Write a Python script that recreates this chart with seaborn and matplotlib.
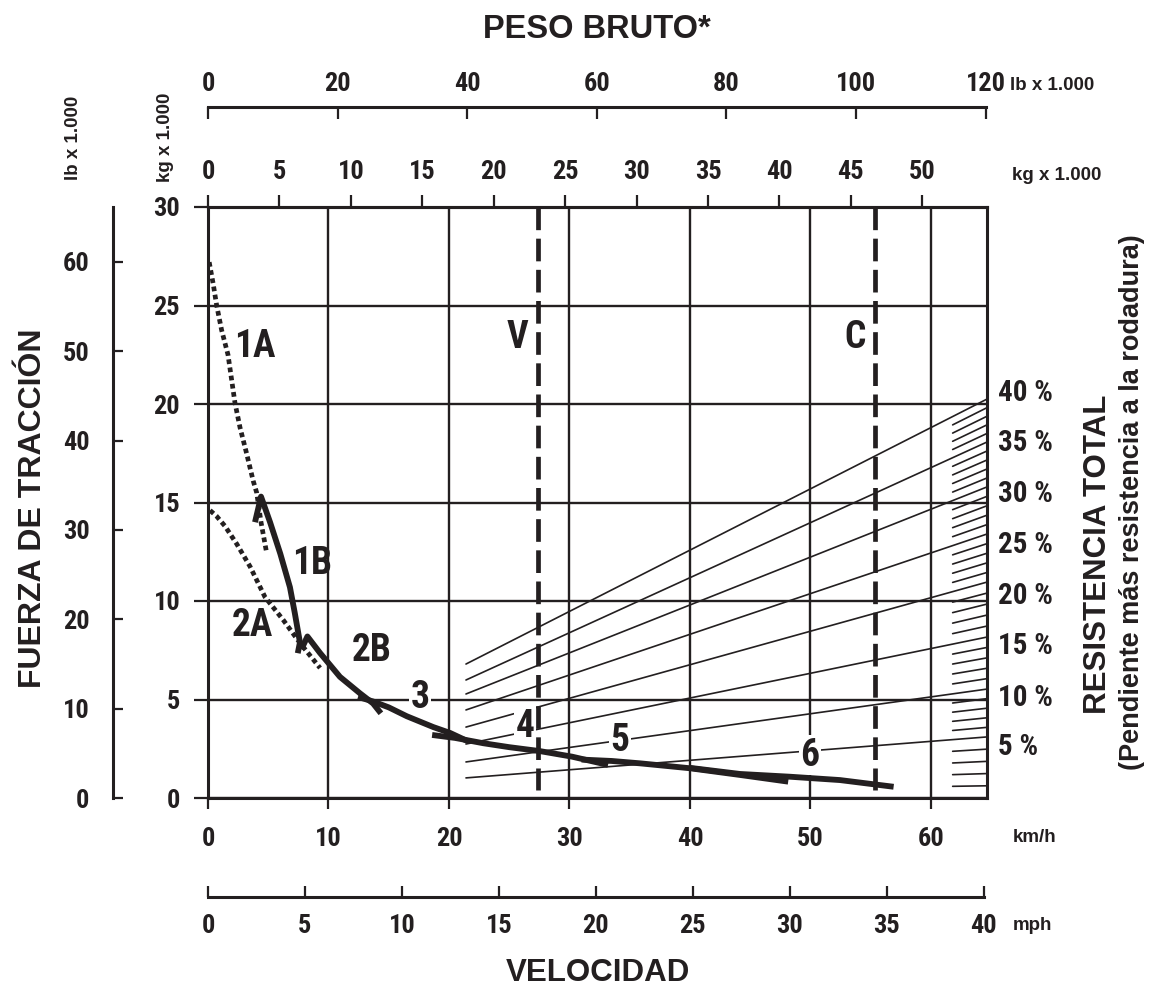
import numpy as np
import pandas as pd
import matplotlib
matplotlib.use("Agg")
import matplotlib.pyplot as plt
import matplotlib.transforms as mtransforms
from matplotlib import font_manager as fm
import seaborn as sns

# ---------------- data ----------------
speed_ticks_kmh = [0, 10, 20, 30, 40, 50, 60]
speed_ticks_mph = [0, 5, 10, 15, 20, 25, 30, 35, 40]
force_ticks_t = [0, 5, 10, 15, 20, 25, 30]
force_ticks_klb = [0, 10, 20, 30, 40, 50, 60]
weight_ticks_klb = [0, 20, 40, 60, 80, 100, 120]
weight_ticks_t = [0, 5, 10, 15, 20, 25, 30, 35, 40, 45, 50]

# rimpull curves: speed (km/h) vs force (kg x 1000)
g1A_kmh = [0.1, 0.43, 0.72, 1.13, 1.66, 2.24, 2.66, 3.2, 3.75, 4.04, 4.4, 4.85]
g1A_t = [27.2, 26.1, 25.0, 23.75, 22.5, 20.05, 18.8, 17.5, 16.1, 15.5, 14.0, 12.5]
g2A_kmh = [0.17, 0.72, 1.41, 2.38, 3.49, 4.73, 6.24, 7.63, 9.3]
g2A_t = [14.6, 14.3, 13.8, 12.9, 11.75, 10.2, 9.04, 7.87, 6.6]
g1B_kmh = [3.9, 4.4, 5.15, 6.0, 6.8, 7.2, 7.63, 7.45]
g1B_t = [14.0, 15.3, 14.0, 12.4, 10.7, 9.4, 7.9, 7.35]
g2B_kmh = [7.75, 8.25, 9.3, 10.95, 12.6, 13.7, 14.35]
g2B_t = [7.55, 8.2, 7.36, 6.15, 5.32, 4.8, 4.3]
g3_kmh = [12.45, 13.7, 15.0, 16.5, 18.7, 20.1, 21.5]
g3_t = [5.13, 4.9, 4.6, 4.15, 3.6, 3.3, 2.9]
g4_kmh = [18.6, 20.5, 22.85, 25.0, 27.55, 30.2, 33.2]
g4_t = [3.2, 3.05, 2.78, 2.58, 2.38, 2.1, 1.68]
g5_kmh = [31.0, 33.5, 35.85, 40.0, 44.15, 48.15]
g5_t = [1.95, 1.88, 1.76, 1.51, 1.17, 0.83]
g6_kmh = [40.0, 44.15, 48.3, 52.45, 56.9]
g6_t = [1.53, 1.22, 1.08, 0.91, 0.57]

# total resistance lines (% grade) : force at left start and right edge
grade_pct = [5, 10, 15, 20, 25, 30, 35, 40]
grade_left_t = [1.02, 1.83, 2.74, 3.60, 4.47, 5.28, 5.99, 6.80]
grade_right_t = [3.10, 5.53, 8.17, 10.96, 13.40, 15.79, 18.07, 20.25]
grade_label_t = [2.6, 5.1, 7.7, 10.25, 12.85, 15.45, 18.0, 20.55]

empty_weight_t = 23.1   # V
loaded_weight_t = 46.7  # C

# ---------------- style ----------------
INK = "#231f20"
sns.set_theme(style="white")
avail = {f.name for f in fm.fontManager.ttflist}
COND = next((f for f in ["Liberation Sans Narrow", "Roboto Condensed", "DejaVu Sans Condensed"] if f in avail), None)
SANS = next((f for f in ["Liberation Sans", "Arial", "DejaVu Sans"] if f in avail), "DejaVu Sans")
if COND is None:
    COND = SANS
    STRETCH = "condensed"
else:
    STRETCH = "normal"
plt.rcParams["font.family"] = [COND, "DejaVu Sans"]
plt.rcParams["font.weight"] = "bold"
plt.rcParams["font.stretch"] = STRETCH
plt.rcParams["text.color"] = INK
plt.rcParams["axes.edgecolor"] = INK

W, H = 1149, 992
fig = plt.figure(figsize=(W / 100, H / 100), dpi=100)
fig.patch.set_facecolor("white")


def fx(px):
    return px / W


def fy(py):
    return 1 - py / H


LB_PER_KG = 1 / 0.45359237
XMAX = 64.65                 # km/h at right frame
KMH_PER_KLB = 64.54 / 120.0  # weight scale is printed over the same width
MAIN_W = (987 - 208) / W
TICKSIZE = 19

ax = fig.add_axes([fx(208), fy(798), MAIN_W, (798 - 207) / H])
ax.set_xlim(0, XMAX)
ax.set_ylim(0, 30)
ax.set_xticks(speed_ticks_kmh)
ax.set_yticks(force_ticks_t)
ax.grid(True, color=INK, lw=1.7)
ax.set_axisbelow(True)
for s in ax.spines.values():
    s.set_visible(True)
    s.set_color(INK)
    s.set_linewidth(2.2)
ax.tick_params(axis="x", direction="out", length=8, width=1.6, pad=13,
               labelsize=TICKSIZE, colors=INK, bottom=True)
ax.tick_params(axis="y", direction="out", length=10, width=1.6, pad=10,
               labelsize=TICKSIZE, colors=INK, left=True)
ax.set_xlabel("")
ax.set_ylabel("")

# top kg axis (on the frame)
sec = ax.secondary_xaxis(
    "top",
    functions=(lambda x: x / KMH_PER_KLB / LB_PER_KG, lambda t: t * LB_PER_KG * KMH_PER_KLB),
)
sec.set_xticks(weight_ticks_t)
sec.tick_params(direction="out", length=8.6, width=1.6, pad=8, labelsize=TICKSIZE,
                colors=INK, top=True)
sec.spines["top"].set_linewidth(2.2)

# top lb axis
ax_lb = fig.add_axes([fx(208), fy(107) - 0.03, 120 * KMH_PER_KLB / XMAX * MAIN_W, 0.03])
ax_lb.set_xlim(0, 120)
ax_lb.patch.set_visible(False)
for k, s in ax_lb.spines.items():
    s.set_visible(k == "top")
    s.set_linewidth(2.2)
    s.set_color(INK)
ax_lb.xaxis.tick_top()
ax_lb.set_xticks(weight_ticks_klb)
ax_lb.set_yticks([])
ax_lb.tick_params(axis="x", direction="in", length=8.6, width=1.6, pad=8,
                  labelsize=TICKSIZE, colors=INK, top=True, bottom=False)

# outer left lb axis
ax_o = fig.add_axes([fx(113), fy(798), 0.03, (798 - 207) / H])
ax_o.set_ylim(0, 30 * LB_PER_KG)
ax_o.patch.set_visible(False)
for k, s in ax_o.spines.items():
    s.set_visible(k == "left")
    s.set_linewidth(2.2)
    s.set_color(INK)
ax_o.set_yticks(force_ticks_klb)
ax_o.set_xticks([])
ax_o.tick_params(axis="y", direction="in", length=7.5, width=1.6, pad=17,
                 labelsize=TICKSIZE, colors=INK, left=True, right=False)

# bottom mph axis
ax_m = fig.add_axes([fx(208), fy(897), 40 * 1.609344 / XMAX * MAIN_W, 0.03])
ax_m.set_xlim(0, 40)
ax_m.patch.set_visible(False)
for k, s in ax_m.spines.items():
    s.set_visible(k == "bottom")
    s.set_linewidth(2.2)
    s.set_color(INK)
ax_m.set_xticks(speed_ticks_mph)
ax_m.set_yticks([])
ax_m.tick_params(axis="x", direction="in", length=8, width=1.6, pad=12,
                 labelsize=TICKSIZE, colors=INK, bottom=True, top=False)

# ---------------- resistance lines ----------------
X_GRADE0 = 21.41
for lv, rv in zip(grade_left_t, grade_right_t):
    ax.plot([X_GRADE0, XMAX], [lv, rv], color=INK, lw=1.2, zorder=2)
X_HATCH0 = 61.8
for pct in range(1, 40):
    if pct in grade_pct:
        continue
    rv = np.interp(pct, [0] + grade_pct, [0] + grade_right_t)
    ax.plot([X_HATCH0, XMAX], [rv * X_HATCH0 / XMAX, rv], color=INK, lw=1.2, zorder=2)

ytrans = mtransforms.blended_transform_factory(ax.transAxes, ax.transData)
for pct, yv in zip(grade_pct, grade_label_t):
    ax.text((998 - 208) / 779, yv, f"{pct} %", transform=ytrans, ha="left", va="center",
            fontsize=21, color=INK, clip_on=False)

# ---------------- empty / loaded weight lines ----------------
for wt, lab, lx in [(empty_weight_t, "V", -1.75), (loaded_weight_t, "C", -1.65)]:
    xk = wt * LB_PER_KG * KMH_PER_KLB
    ax.plot([xk, xk], [30, 0.4], color=INK, lw=3.4, dashes=(4.8, 1.8), zorder=3,
            solid_capstyle="butt")
    ax.text(xk + lx, 23.4, lab, ha="center", va="center", fontsize=27, color=INK, zorder=4)

# ---------------- rimpull curves (seaborn) ----------------
curves = [
    ("1A", g1A_kmh, g1A_t, "dot"),
    ("2A", g2A_kmh, g2A_t, "dot"),
    ("1B", g1B_kmh, g1B_t, "solid"),
    ("2B", g2B_kmh, g2B_t, "solid"),
    ("3", g3_kmh, g3_t, "solid"),
    ("4", g4_kmh, g4_t, "solid"),
    ("5", g5_kmh, g5_t, "solid"),
    ("6", g6_kmh, g6_t, "solid"),
]
df = pd.concat([pd.DataFrame({"speed": xs, "force": ys, "gear": g, "kind": k})
                for g, xs, ys, k in curves], ignore_index=True)
for g, sub in df.groupby("gear", sort=False):
    kind = sub["kind"].iloc[0]
    if kind == "dot":
        sns.lineplot(data=sub, x="speed", y="force", sort=False, estimator=None, ax=ax,
                     color=INK, lw=3.4, linestyle=(0, (1.0, 0.75)), zorder=5, legend=False)
    else:
        sns.lineplot(data=sub, x="speed", y="force", sort=False, estimator=None, ax=ax,
                     color=INK, lw=4.2, zorder=6, legend=False,
                     solid_joinstyle="round", solid_capstyle="butt")
ax.set_xlabel("")
ax.set_ylabel("")

gear_labels = [("1A", 3.9, 22.94, False), ("1B", 8.63, 11.88, False), ("2A", 3.65, 8.78, False),
               ("2B", 13.6, 7.51, False), ("3", 17.6, 5.08, True), ("4", 26.3, 3.65, True),
               ("5", 34.2, 2.94, True), ("6", 49.96, 2.18, True)]
for txt, lx, ly, box in gear_labels:
    kw = dict(ha="center", va="center", fontsize=27, color=INK, zorder=4)
    if box:
        kw["bbox"] = dict(facecolor="white", edgecolor="none", pad=1.2)
    ax.text(lx, ly, txt, **kw)

# ---------------- titles & unit labels ----------------
big = dict(family=SANS, weight="bold", stretch="normal", color=INK)
fig.text(fx(597), fy(29), "PESO BRUTO*", ha="center", va="center", fontsize=23.5, **big)
fig.text(fx(598), fy(973), "VELOCIDAD", ha="center", va="center", fontsize=22.5, **big)
fig.text(fx(33), fy(508), "FUERZA DE TRACCIÓN", ha="center", va="center", rotation=90,
         fontsize=23, **big)
fig.text(fx(1098), fy(554), "RESISTENCIA TOTAL", ha="center", va="center", rotation=90,
         fontsize=22.5, **big)
fig.text(fx(1132), fy(502), "(Pendiente más resistencia a la rodadura)", ha="center",
         va="center", rotation=90, fontsize=19.5, **big)

small = dict(fontsize=13.5, family=SANS, weight="bold", stretch="normal", color=INK)
fig.text(fx(74), fy(138), "lb x 1.000", ha="center", va="center", rotation=90, **small)
fig.text(fx(165), fy(137), "kg x 1.000", ha="center", va="center", rotation=90, **small)
fig.text(fx(1010), fy(86), "lb x 1.000", ha="left", va="center", **small)
fig.text(fx(1012), fy(175), "kg x 1.000", ha="left", va="center", **small)
fig.text(fx(1013), fy(838), "km/h", ha="left", va="center", **small)
fig.text(fx(1013), fy(926), "mph", ha="left", va="center", **small)

fig.savefig("out.png", dpi=100, facecolor="white")
